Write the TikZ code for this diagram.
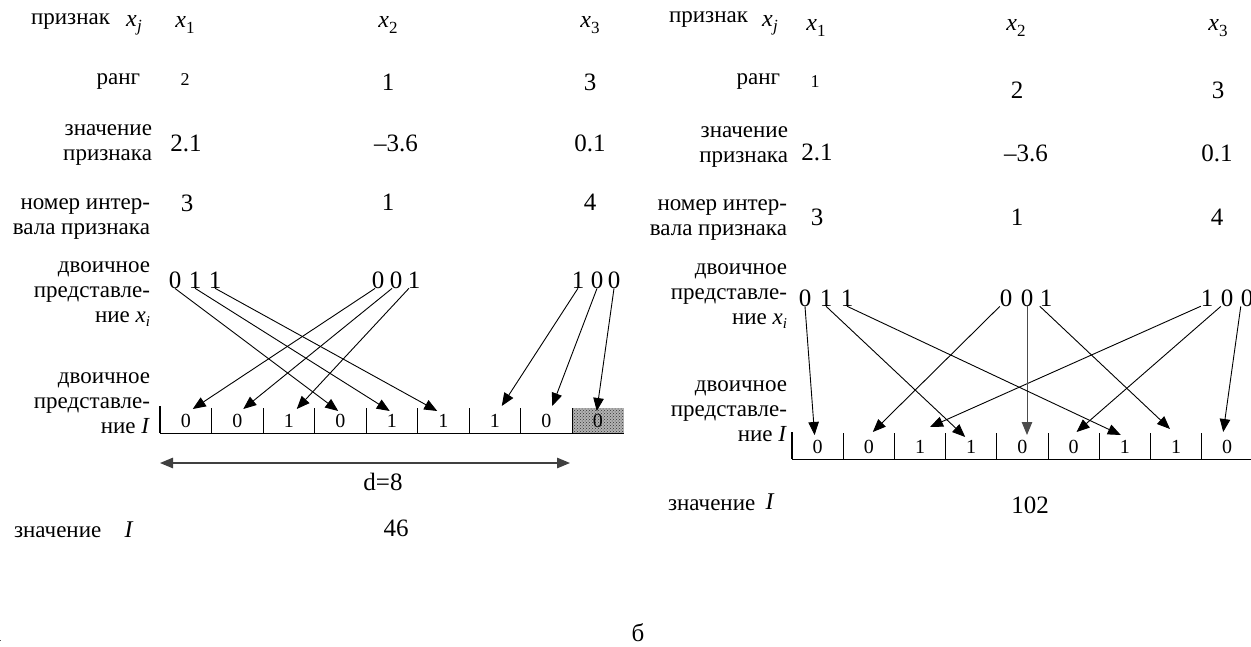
\documentclass[tikz,border=0pt]{standalone}
\usepackage{fontspec}
\setmainfont{Liberation Serif}
\usetikzlibrary{arrows.meta,calc,patterns}
% feature symbol x with a subscript
\newcommand{\xsub}[1]{\textit{x}\kern0.3pt\raisebox{-0.22em}{\fontsize{17}{17}\selectfont #1}}
\begin{document}
\begin{tikzpicture}[x=1pt,y=-1pt,
  >={Triangle[length=13pt,width=10.5pt]},
  every node/.style={inner sep=0pt,outer sep=0pt},
  lbl/.style={font=\fontsize{23}{25}\selectfont,align=right,anchor=east},
  hdr/.style={font=\fontsize{24}{24}\selectfont},
  val/.style={font=\fontsize{25}{25}\selectfont},
  smallval/.style={font=\fontsize{18}{18}\selectfont},
  bit/.style={font=\fontsize{25}{25}\selectfont},
  cellnum/.style={font=\fontsize{20}{20}\selectfont,minimum width=50pt,minimum height=24pt},
  arr/.style={->,line width=0.9pt},
  wall/.style={line width=1pt},
]
\useasboundingbox (0,0) rectangle (1251,646);

% ---------------- left panel ----------------
\node[lbl] (Lh) at (110,22) {признак};
\node[hdr] (Lxj) at (134,25) {\xsub{\textit{j}}};
\node[hdr] (Lx1) at (185,25) {\xsub{1}};
\node[hdr] (Lx2) at (388,25) {\xsub{2}};
\node[hdr] (Lx3) at (590,25) {\xsub{3}};

\node[lbl] (Lrank) at (140,82) {ранг};
\node[smallval] (Lr1) at (185,80) {2};
\node[val] (Lr2) at (388,82) {1};
\node[val] (Lr3) at (590,82) {3};

\node[lbl] (Lval) at (152,145) {значение\\признака};
\node[val] (Lv1) at (186,143) {2.1};
\node[val] (Lv2) at (396,143) {–3.6};
\node[val] (Lv3) at (590,143) {0.1};

\node[lbl] (Lint) at (150,219) {номер интер-\\вала признака};
\node[val] (Ln1) at (187,203) {3};
\node[val] (Ln2) at (388,202) {1};
\node[val] (Ln3) at (590,202) {4};

\node[lbl] (Lbx) at (150,294) {двоичное\\представле-\\ние \textit{x}\raisebox{-0.2em}{\fontsize{15}{15}\selectfont\textit{i}}};
\node[bit] (La1) at (175,280) {0};
\node[bit] (La2) at (195,280) {1};
\node[bit] (La3) at (215,280) {1};
\node[bit] (Lb1) at (378,280) {0};
\node[bit] (Lb2) at (396,280) {0};
\node[bit] (Lb3) at (414,280) {1};
\node[bit] (Lc1) at (578,280) {1};
\node[bit] (Lc2) at (597,280) {0};
\node[bit] (Lc3) at (614,280) {0};

\node[lbl] (LbI) at (150,403) {двоичное\\представле-\\ние \textit{I}};

% code word of the left panel: the ninth bit is cut off
\fill[gray!60] (572,408) rectangle (623.5,433);
\fill[pattern=crosshatch dots,pattern color=black!80] (572,408) rectangle (623.5,433);
\foreach \v [count=\k] in {0,0,1,0,1,1,1,0,0}
  \node[cellnum] (L\k) at ({160+51.5*(\k-0.5)},421) {\v};
\foreach \k in {1,...,8}
  \draw[wall] ({160+51.5*\k},408) -- ++(0,25);
\draw[line width=1.8pt] (160,406) -- (160,433);
\draw[wall] (160,433) -- (623.5,433);

\draw[arr] (La1.south) -- ($(L4.north)+(-2,2)$);
\draw[arr] (La2.south) -- ($(L5.north)+(-2,2)$);
\draw[arr] (La3.south) -- ($(L6.north)+(-6,2)$);
\draw[arr] ($(Lb1.south)+(-3,0)$) -- ($(L1.north)+(7,0)$);
\draw[arr] ($(Lb2.south)+(-4,0)$) -- ($(L2.north)+(6,0)$);
\draw[arr] ($(Lb3.south)+(-5,0)$) -- ($(L3.north)+(8,0)$);
\draw[arr] (Lc1.south) -- ($(L7.north)+(7,-3)$);
\draw[arr] (Lc2.south) -- ($(L8.north)+(6,-3)$);
\draw[arr] (Lc3.south) -- ($(L9.north)+(-1,2)$);

\coordinate (dL) at (160,463);
\coordinate (dR) at (570,463);
\draw[<->,line width=1.2pt,draw=black!75] (dL) -- (dR);
\node[val] (dlab) at (383,482) {d=8};

\node[lbl,anchor=west] (LvI) at (14,532) {значение};
\node[hdr] (LI) at (129,530) {\textit{I}};
\node[val] (Lres) at (396,528) {46};
\node[val] (Lcap) at (-4,636) {а};

% ---------------- right panel ----------------
\node[lbl] (Rh) at (748,20) {признак};
\node[hdr] (Rxj) at (770,25) {\xsub{\textit{j}}};
\node[hdr] (Rx1) at (816,28) {\xsub{1}};
\node[hdr] (Rx2) at (1016,28) {\xsub{2}};
\node[hdr] (Rx3) at (1218,28) {\xsub{3}};

\node[lbl] (Rrank) at (780,82) {ранг};
\node[smallval] (Rr1) at (815,82) {1};
\node[val] (Rr2) at (1017,90) {2};
\node[val] (Rr3) at (1218,90) {3};

\node[lbl] (Rval) at (788,147) {значение\\признака};
\node[val] (Rv1) at (817,152) {2.1};
\node[val] (Rv2) at (1026,153) {–3.6};
\node[val] (Rv3) at (1217,153) {0.1};

\node[lbl] (Rint) at (787,220) {номер интер-\\вала признака};
\node[val] (Rn1) at (817,217) {3};
\node[val] (Rn2) at (1017,217) {1};
\node[val] (Rn3) at (1217,217) {4};

\node[lbl] (Rbx) at (787,296) {двоичное\\представле-\\ние \textit{x}\raisebox{-0.2em}{\fontsize{15}{15}\selectfont\textit{i}}};
\node[bit] (Ra1) at (805,298) {0};
\node[bit] (Ra2) at (826,298) {1};
\node[bit] (Ra3) at (847,298) {1};
\node[bit] (Rb1) at (1006,298) {0};
\node[bit] (Rb2) at (1027,298) {0};
\node[bit] (Rb3) at (1046,298) {1};
\node[bit] (Rc1) at (1207,298) {1};
\node[bit] (Rc2) at (1227,298) {0};
\node[bit] (Rc3) at (1247,298) {0};

\node[lbl] (RbI) at (787,411) {двоичное\\представле-\\ние \textit{I}};

% interleaved code word of the right panel
\foreach \v [count=\k] in {0,0,1,1,0,0,1,1,0}
  \node[cellnum] (R\k) at ({792+51.2*(\k-0.5)},447) {\v};
\foreach \k in {1,...,8}
  \draw[wall] ({792+51.2*\k},433) -- ++(0,26);
\draw[line width=1.6pt] (792,432) -- (792,459);
\draw[wall] (792,459) -- (1251,459);

\draw[arr] (Ra1.south) -- ($(R1.north)+(-3,0)$);
\draw[arr] (Rb1.south west) -- ($(R2.north)+(4,-3)$);
\draw[arr] (Rc1.south west) -- ($(R3.north)+(10,-8)$);
\draw[arr] (Ra2.south) -- ($(R4.north)+(-6,2)$);
\draw[arr,draw=black!70] (Rb2.south) -- (Rb2.south |- R5.north);
\draw[arr] (Rc2.south west) -- ($(R6.north)+(3,-3)$);
\draw[arr] (Ra3.south) -- ($(R7.north)+(-4,0)$);
\draw[arr] (Rb3.south west) -- ($(R8.north)+(-6,-6)$);
\draw[arr] (Rc3.south west) -- ($(R9.north)+(-4,-3)$);

\node[lbl,anchor=west] (RvI) at (668,505) {значение};
\node[hdr] (RI) at (770,502) {\textit{I}};
\node[val] (Rres) at (1030,505) {102};
\node[val] (Rcap) at (638,633) {б};
\end{tikzpicture}
\end{document}
